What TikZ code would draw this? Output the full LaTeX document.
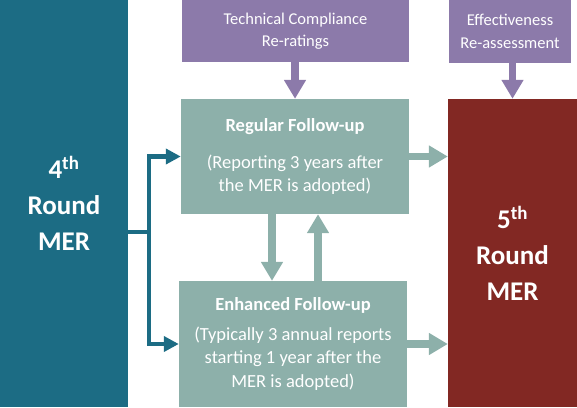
\documentclass[tikz,border=0pt]{standalone}
\usepackage{fontspec}
\setmainfont{Carlito}
\usetikzlibrary{arrows.meta}
\definecolor{tealbox}{RGB}{28,108,132}
\definecolor{purplebox}{RGB}{140,122,170}
\definecolor{greybox}{RGB}{141,176,170}
\definecolor{redbox}{RGB}{130,40,35}
\tikzset{
  box/.style={rectangle, inner sep=0pt, text=white, align=center},
  smalltext/.style={font=\fontsize{16.5}{22.5}\selectfont},
  midtext/.style={font=\fontsize{18.5}{23.5}\selectfont},
  bigtext/.style={font=\fontsize{27}{36}\selectfont\bfseries},
  greyarrow/.style={draw=greybox, line width=7.5pt, -{Triangle[width=21pt,length=19pt]}},
  purplearrow/.style={draw=purplebox, line width=7.5pt, -{Triangle[width=21pt,length=19pt]}},
  tealline/.style={draw=tealbox, line width=4.5pt, line join=miter},
  tealarrow/.style={tealline, -{Triangle[width=15pt,length=15pt]}},
}
\begin{document}
\begin{tikzpicture}[x=1pt,y=-1pt]
\useasboundingbox (0,0) rectangle (577,407);
\node[box, fill=tealbox, minimum width=128pt, minimum height=407pt, bigtext] (m4) at (64,203.5)
  {4\textsuperscript{th}\\Round\\MER};
\node[box, fill=purplebox, minimum width=227pt, minimum height=62pt, smalltext] (tc) at (295.5,31)
  {Technical Compliance\\Re-ratings};
\node[box, fill=purplebox, minimum width=122pt, minimum height=63pt, smalltext] (eff) at (510,31.5)
  {Effectiveness\\Re-assessment};
\node[box, fill=greybox, minimum width=228pt, minimum height=115pt, midtext] (reg) at (295,156.5)
  {\textbf{Regular Follow-up}\\[13pt](Reporting 3 years after\\the MER is adopted)};
\node[box, fill=greybox, minimum width=228pt, minimum height=126pt, midtext] (enh) at (293,344)
  {\textbf{Enhanced Follow-up}\\[6pt](Typically 3 annual reports\\starting 1 year after the\\MER is adopted)};
\node[box, fill=redbox, minimum width=129pt, minimum height=308pt, bigtext] (m5) at (512.5,253)
  {5\textsuperscript{th}\\Round\\MER};
% purple arrows
\draw[purplearrow] (tc.south -| reg.north) -- (reg.north);
\draw[purplearrow] (eff.south -| m5.north) -- (m5.north);
% teal connector
\coordinate (j) at (149,232);
\draw[tealline] (m4.east |- j) -- (j);
\draw[tealarrow] (j) |- (reg.west);
\draw[tealarrow] (j) |- (enh.west);
% grey arrows
\draw[greyarrow] (reg.east) -- (reg.east -| m5.west);
\draw[greyarrow] (enh.east) -- (enh.east -| m5.west);
\draw[greyarrow] ([xshift=-23pt]reg.south) -- ([xshift=-23pt]reg.south |- enh.north);
\draw[greyarrow] ([xshift=23pt]reg.south |- enh.north) -- ([xshift=23pt]reg.south);
\end{tikzpicture}
\end{document}
